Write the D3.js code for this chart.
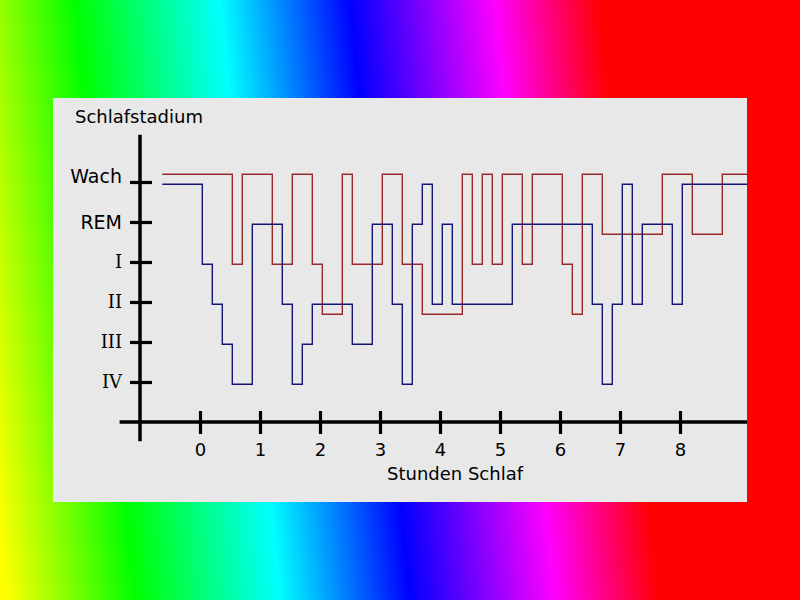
<!DOCTYPE html>
<html><head><meta charset="utf-8">
<script src="https://cdn.jsdelivr.net/npm/d3@7"></script>
<style>html,body{margin:0;padding:0;overflow:hidden;background:#fff}</style>
</head><body>
<svg id="c" width="800" height="600"></svg>
<script>
// ---- data ----
const stageLabels = ["IV", "III", "II", "I", "REM", "Wach"]; // stage values 0..5
const stageValues = [0, 1, 2, 3, 4, 5];
const hourTicks = [0, 1, 2, 3, 4, 5, 6, 7, 8];
const titleY = "Schlafstadium";
const titleX = "Stunden Schlaf";

// red series: minutes since sleep onset, stage level
const redMinutes = [-40, 30, 40, 70, 90, 110, 120, 140, 150, 180, 200, 220, 260, 270, 280, 290, 300, 320, 330, 360, 370, 380, 400, 460, 490, 520, 550];
const redStages  = [5.25, 3, 5.25, 3, 5.25, 3, 1.75, 5.25, 3, 5.25, 3, 1.75, 5.25, 3, 5.25, 3, 5.25, 3, 5.25, 3, 1.75, 5.25, 3.75, 5.25, 3.75, 5.25, 5.25];

// blue series
const blueMinutes = [-40, 0, 10, 20, 30, 50, 80, 90, 100, 110, 150, 170, 190, 200, 210, 220, 230, 240, 250, 310, 390, 400, 410, 420, 430, 440, 470, 480, 550];
const blueStages  = [5, 3, 2, 1, 0, 4, 2, 0, 1, 2, 1, 4, 2, 0, 4, 5, 2, 4, 2, 4, 2, 0, 2, 5, 2, 4, 2, 5, 5];

// ---- drawing ----
const svg = d3.select("#c");
const defs = svg.append("defs");
const grad = defs.append("linearGradient").attr("id", "rainbow")
  .attr("gradientUnits", "userSpaceOnUse")
  .attr("x1", -54).attr("y1", 0).attr("x2", 606).attr("y2", -66);
[[0, "#ffff00"], [0.194, "#00ff00"], [0.411, "#00ffff"], [0.606, "#0000ff"], [0.824, "#ff00ff"], [0.981, "#ff0000"]]
  .forEach(([o, c]) => grad.append("stop").attr("offset", o).attr("stop-color", c));
svg.append("rect").attr("width", 800).attr("height", 600).attr("fill", "url(#rainbow)");

const panel = {x: 53, y: 98, w: 694, h: 404};
svg.append("rect").attr("x", panel.x).attr("y", panel.y).attr("width", panel.w).attr("height", panel.h).attr("fill", "#e8e8e8");
defs.append("clipPath").attr("id", "clip").append("rect")
  .attr("x", panel.x).attr("y", panel.y).attr("width", panel.w).attr("height", panel.h);

const x = d3.scaleLinear().domain([0, 8]).range([200, 680]);
const y = d3.scaleLinear().domain([0, 5]).range([382, 182]);

const sans = "'DejaVu Sans', Verdana, sans-serif";
const serif = "'DejaVu Serif', serif";

// lines
const line = d3.line().curve(d3.curveStepAfter).x(d => x(d[0] / 60)).y(d => y(d[1]));
const g = svg.append("g").attr("clip-path", "url(#clip)").append("g").attr("transform", "translate(2.3,2.3)");
g.append("path").datum(redMinutes.map((m, i) => [m, redStages[i]]))
  .attr("d", line).attr("fill", "none").attr("stroke", "#9a2a2a").attr("stroke-width", 1.4);
g.append("path").datum(blueMinutes.map((m, i) => [m, blueStages[i]]))
  .attr("d", line).attr("fill", "none").attr("stroke", "#141478").attr("stroke-width", 1.4);

// axes lines
const x0 = x(-1), yAxisBase = y(-1);
svg.append("line").attr("x1", x0).attr("x2", x0).attr("y1", y(6.18)).attr("y2", y(-1.48))
  .attr("stroke", "#000").attr("stroke-width", 3.5);
svg.append("line").attr("x1", x(-1.34)).attr("x2", panel.x + panel.w).attr("y1", yAxisBase).attr("y2", yAxisBase)
  .attr("stroke", "#000").attr("stroke-width", 3.5);

// y axis
const yAxis = svg.append("g").attr("transform", `translate(${x0},0)`)
  .call(d3.axisLeft(y).tickValues(stageValues).tickSize(10).tickFormat(v => stageLabels[v]));
yAxis.select(".domain").remove();
yAxis.selectAll(".tick line").attr("x1", 12).attr("x2", -10).attr("stroke", "#000").attr("stroke-width", 3.2);
yAxis.selectAll(".tick text")
  .attr("x", -18).attr("dy", v => v === 5 ? "0.0em" : "0.32em")
  .attr("fill", "#000")
  .style("font-family", v => v <= 3 ? serif : sans)
  .style("font-size", v => v <= 3 ? "18px" : "19px");

// x axis
const xAxis = svg.append("g").attr("transform", `translate(0,${yAxisBase})`)
  .call(d3.axisBottom(x).tickValues(hourTicks).tickSize(12).tickFormat(d3.format("d")));
xAxis.select(".domain").remove();
xAxis.selectAll(".tick line").attr("y1", -11).attr("y2", 12).attr("stroke", "#000").attr("stroke-width", 3.2);
xAxis.selectAll(".tick text").attr("y", 21).attr("dy", "0.71em").attr("fill", "#000")
  .style("font-family", sans).style("font-size", "18px");

// titles
svg.append("text").attr("x", 75).attr("y", 123).text(titleY)
  .style("font-family", sans).style("font-size", "18px").attr("fill", "#000");
svg.append("text").attr("x", 455).attr("y", 480).attr("text-anchor", "middle").text(titleX)
  .style("font-family", sans).style("font-size", "18px").attr("fill", "#000");
</script>
</body></html>
